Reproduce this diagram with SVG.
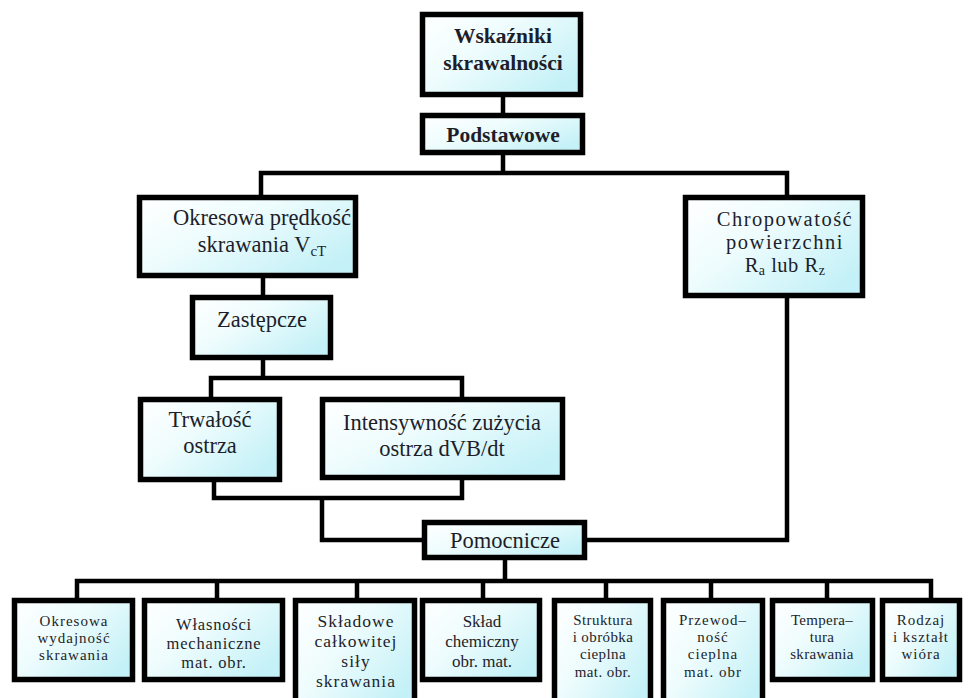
<svg xmlns="http://www.w3.org/2000/svg" width="970" height="698" viewBox="0 0 970 698" font-family="'Liberation Serif', 'DejaVu Serif', serif">
<defs>
<linearGradient id="fill" x1="0" y1="0" x2="1" y2="0.7">
<stop offset="0" stop-color="#ffffff"/>
<stop offset="0.45" stop-color="#eefcfd"/>
<stop offset="1" stop-color="#c4f1f7"/>
</linearGradient>
<style>
.box{fill:url(#fill);stroke:#000;stroke-width:5.5}
.c{fill:none;stroke:#000;stroke-width:4.5;stroke-linecap:square}
text{font-family:'Liberation Serif','DejaVu Serif',serif;fill:#1e1e2a;text-anchor:middle}
.b{font-weight:bold;font-size:21.5px}
.m{font-size:22.5px}
</style>
</defs>
<rect width="970" height="698" fill="#fff"/>
<g id="connectors">
<path class="c" d="M503 97V113M503 155V173M261 173H787M261 173V195M787 173V195"/>
<path class="c" d="M263 278V295M263 360V378M211 378H462M211 378V397M462 378V397"/>
<path class="c" d="M214 482V498M462 480V498M214 498H462M322 498V540H422"/>
<path class="c" d="M787 298V540H587"/>
<path class="c" d="M505 560V581M77 581H931M77 581V598M217 581V598M357 581V598M483 581V598M606 581V598M711 581V598M827 581V598M931 581V598"/>
</g>
<g id="wskazniki">
<rect class="box" x="422.5" y="14.5" width="158" height="80"/>
<text class="b" x="503" y="43">Wskaźniki</text>
<text class="b" x="503" y="70">skrawalności</text>
</g>
<g id="podstawowe">
<rect class="box" x="422.5" y="115.5" width="160" height="37"/>
<text class="b" x="503" y="142">Podstawowe</text>
</g>
<g id="okresowa-predkosc">
<rect class="box" x="139.5" y="197.5" width="216" height="78"/>
<text class="m" x="262" y="225">Okresowa prędkość</text>
<text class="m" x="262" y="252">skrawania V<tspan font-size="15" dy="4">cT</tspan></text>
</g>
<g id="chropowatosc">
<rect class="box" x="685.5" y="197.5" width="177" height="98"/>
<text x="785" y="226" font-size="20.5" letter-spacing="1.5">Chropowatość</text>
<text x="785" y="249" font-size="20.5" letter-spacing="1.5">powierzchni</text>
<text x="785" y="272" font-size="20.5" letter-spacing="0.5">R<tspan font-size="14" dy="3">a</tspan><tspan dy="-3"> lub R</tspan><tspan font-size="14" dy="3">z</tspan></text>
</g>
<g id="zastepcze">
<rect class="box" x="192.5" y="297.5" width="138" height="60"/>
<text class="m" x="262" y="327">Zastępcze</text>
</g>
<g id="trwalosc">
<rect class="box" x="140.5" y="399.5" width="139" height="80"/>
<text class="m" x="210" y="427">Trwałość</text>
<text class="m" x="210" y="453">ostrza</text>
</g>
<g id="intensywnosc">
<rect class="box" x="322.5" y="399.5" width="240" height="78"/>
<text class="m" x="442" y="430">Intensywność zużycia</text>
<text class="m" x="442" y="456">ostrza dVB/dt</text>
</g>
<g id="pomocnicze">
<rect class="box" x="424.5" y="522.5" width="160" height="35"/>
<text class="m" x="505" y="548">Pomocnicze</text>
</g>
<g id="okresowa-wydajnosc" font-size="15" letter-spacing="1">
<rect class="box" x="14.5" y="600.5" width="118" height="79"/>
<text x="74" y="626">Okresowa</text>
<text x="74" y="643">wydajność</text>
<text x="74" y="660">skrawania</text>
</g>
<g id="wlasnosci" font-size="16.5" letter-spacing="0.8">
<rect class="box" x="144.5" y="600.5" width="138" height="79"/>
<text x="214" y="630">Własności</text>
<text x="214" y="649">mechaniczne</text>
<text x="214" y="668">mat. obr.</text>
</g>
<g id="skladowe" font-size="17.5" letter-spacing="1">
<rect class="box" x="295.5" y="600.5" width="119" height="110"/>
<text x="356" y="627">Składowe</text>
<text x="356" y="647">całkowitej</text>
<text x="356" y="667">siły</text>
<text x="356" y="687">skrawania</text>
</g>
<g id="sklad" font-size="17">
<rect class="box" x="422.5" y="600.5" width="117" height="79"/>
<text x="482" y="627">Skład</text>
<text x="482" y="647">chemiczny</text>
<text x="482" y="667">obr. mat.</text>
</g>
<g id="struktura" font-size="15" letter-spacing="0.4">
<rect class="box" x="554.5" y="600.5" width="96" height="110"/>
<text x="603" y="625">Struktura</text>
<text x="603" y="642">i obróbka</text>
<text x="603" y="659">cieplna</text>
<text x="603" y="677">mat. obr.</text>
</g>
<g id="przewodnosc" font-size="15" letter-spacing="1">
<rect class="box" x="663.5" y="600.5" width="99" height="110"/>
<text x="713" y="625">Przewod–</text>
<text x="713" y="642">ność</text>
<text x="713" y="659">cieplna</text>
<text x="713" y="677">mat. obr</text>
</g>
<g id="temperatura" font-size="15" letter-spacing="0.3">
<rect class="box" x="772.5" y="600.5" width="100" height="79"/>
<text x="822" y="625">Tempera–</text>
<text x="822" y="642">tura</text>
<text x="822" y="659">skrawania</text>
</g>
<g id="rodzaj" font-size="15" letter-spacing="1">
<rect class="box" x="882.5" y="600.5" width="77" height="79"/>
<text x="921" y="625">Rodzaj</text>
<text x="921" y="642">i kształt</text>
<text x="921" y="659">wióra</text>
</g>
</svg>
